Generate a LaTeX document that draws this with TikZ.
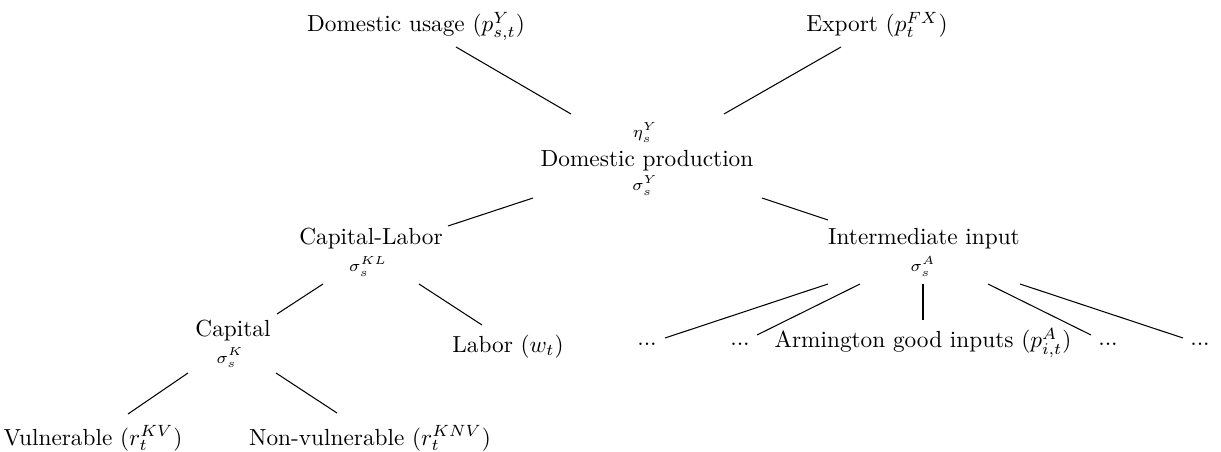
\documentclass[tikz,border=0pt]{standalone}
\usetikzlibrary{calc}
\begin{document}
\begin{tikzpicture}[x=0.4295pt,y=-0.4295pt,
  lbl/.style={anchor=base, inner sep=0pt, font=\normalsize},
  par/.style={anchor=base, inner sep=0pt, font=\normalsize},
  edge/.style={line width=0.45pt}]
\useasboundingbox (0,0) rectangle (1221,452);
% top
\node[lbl] (usage) at (416,32) {Domestic usage ($p^{Y}_{s,t}$)};
\node[lbl] (export) at (877,32) {Export ($p^{FX}_{t}$)};
% domestic production
\node[par] (eta) at (645,138) {$\scriptstyle\eta^{Y}_{s}$};
\node[lbl] (prod) at (647,167) {Domestic production};
\node[par] (sigY) at (645,191) {$\scriptstyle\sigma^{Y}_{s}$};
% second level
\node[lbl] (caplab) at (371,245) {Capital-Labor};
\node[par] (sigKL) at (368,272) {$\scriptstyle\sigma^{KL}_{s}$};
\node[lbl] (inter) at (924,245) {Intermediate input};
\node[par] (sigA) at (923,272) {$\scriptstyle\sigma^{A}_{s}$};
% third level
\node[lbl] (capital) at (233,337) {Capital};
\node[par] (sigK) at (230,363) {$\scriptstyle\sigma^{K}_{s}$};
\node[lbl] (labor) at (508,352) {Labor ($w_t$)};
\node[lbl] (d1) at (647,346) {...};
\node[lbl] (d2) at (740,346) {...};
\node[lbl] (arm) at (923,348) {Armington good inputs ($p^{A}_{i,t}$)};
\node[lbl] (d3) at (1108,346) {...};
\node[lbl] (d4) at (1200,346) {...};
% bottom
\node[lbl] (vul) at (93,445) {Vulnerable ($r^{KV}_{t}$)};
\node[lbl] (nonvul) at (370,445) {Non-vulnerable ($r^{KNV}_{t}$)};
% connectors
\draw[edge] ($(usage.base)+(40,15)$) -- ($(prod.base)+(-76,-53)$);
\draw[edge] ($(export.base)+(-36,15)$) -- ($(prod.base)+(77,-53)$);
\draw[edge] ($(prod.base)+(-114,31)$) -- ($(caplab.base)+(77,-19)$);
\draw[edge] ($(prod.base)+(115,31)$) -- ($(inter.base)+(-96,-25)$);
\draw[edge] ($(caplab.base)+(-48,39)$) -- ($(capital.base)+(44,-23)$);
\draw[edge] ($(caplab.base)+(48,39)$) -- ($(labor.base)+(-26,-27)$);
\draw[edge] ($(capital.base)+(-45,36)$) -- ($(vul.base)+(35,-31)$);
\draw[edge] ($(capital.base)+(43,36)$) -- ($(nonvul.base)+(-33,-32)$);
\draw[edge] ($(inter.base)+(-96,39)$) -- ($(d1.base)+(18,-8)$);
\draw[edge] ($(inter.base)+(-64,39)$) -- ($(d2.base)+(17,-11)$);
\draw[edge] ($(inter.base)+(-1,39)$) -- ($(arm.base)+(0,-28)$);
\draw[edge] ($(inter.base)+(64,39)$) -- ($(d3.base)+(-17,-11)$);
\draw[edge] ($(inter.base)+(96,39)$) -- ($(d4.base)+(-17,-8)$);
\end{tikzpicture}
\end{document}
